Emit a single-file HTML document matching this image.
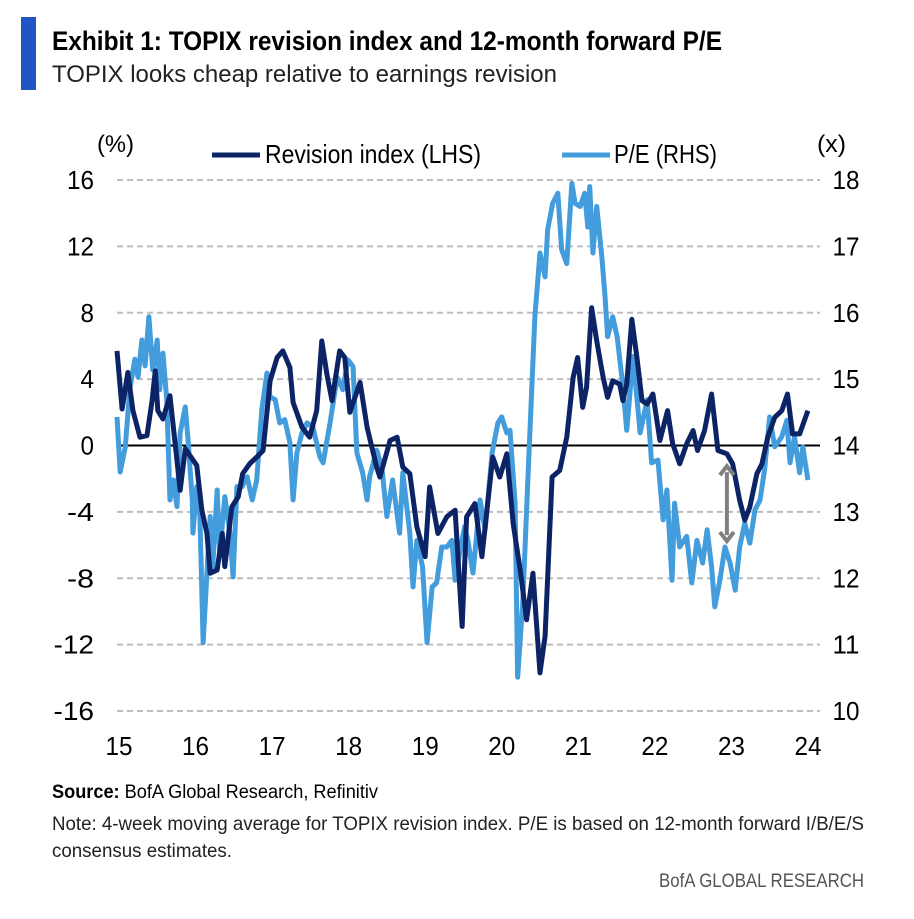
<!DOCTYPE html>
<html><head><meta charset="utf-8"><style>
body{margin:0;background:#fff;}
svg text{font-family:"Liberation Sans Narrow","Liberation Sans",sans-serif;}
</style></head><body>
<svg id="chart" width="914" height="914" viewBox="0 0 914 914" xmlns="http://www.w3.org/2000/svg">
<rect x="21" y="17" width="15" height="73" fill="#2255c4"/>
<text x="52" y="50" font-size="27" font-weight="bold" fill="#000" textLength="670" lengthAdjust="spacingAndGlyphs">Exhibit 1: TOPIX revision index and 12-month forward P/E</text>
<text x="52" y="82" font-size="24" fill="#222" textLength="505" lengthAdjust="spacingAndGlyphs">TOPIX looks cheap relative to earnings revision</text>
<text x="97" y="152" font-size="24" fill="#000" textLength="37" lengthAdjust="spacingAndGlyphs">(%)</text>
<text x="817" y="152" font-size="24" fill="#000" textLength="29" lengthAdjust="spacingAndGlyphs">(x)</text>
<g>
<g>
<line x1="212" y1="155" x2="260" y2="155" stroke="#0c2366" stroke-width="5"/>
<text x="265" y="163" font-size="26" fill="#000" textLength="216" lengthAdjust="spacingAndGlyphs">Revision index (LHS)</text>
</g>
<g>
<line x1="562" y1="155" x2="610" y2="155" stroke="#439cdb" stroke-width="5"/>
<text x="614" y="163" font-size="26" fill="#000" textLength="103" lengthAdjust="spacingAndGlyphs">P/E (RHS)</text>
</g>
</g>
<g id="grid"></g>
<g id="yl"></g>
<g id="yr"></g>
<g id="xa"></g>
<g id="series"></g>
<g id="arrow"></g>
<text x="52" y="798" font-size="19" fill="#000" textLength="326" lengthAdjust="spacingAndGlyphs"><tspan font-weight="bold">Source:</tspan>  BofA Global Research, Refinitiv</text>
<text x="52" y="830" font-size="19" fill="#222" textLength="812" lengthAdjust="spacingAndGlyphs">Note: 4-week moving average for TOPIX revision index. P/E is based on 12-month  forward I/B/E/S</text>
<text x="52" y="857" font-size="19" fill="#222" textLength="180" lengthAdjust="spacingAndGlyphs">consensus   estimates.</text>
<text x="864" y="887" font-size="19" fill="#555" text-anchor="end" textLength="205" lengthAdjust="spacingAndGlyphs">BofA GLOBAL RESEARCH</text>
</svg>
<script>
// Data: months since Jan 2015
const revMonths=[0,0.8,1.7,2.5,3.6,4.7,5.5,6.0,6.4,7.2,8.3,9.4,9.9,10.7,12.5,13.3,14.1,14.6,15.7,16.5,16.9,18.0,19.0,19.7,20.8,21.9,22.9,24.0,25.1,26.0,27.1,27.6,29.0,30.2,31.3,32.1,32.9,33.7,34.9,35.7,36.5,38.1,39.2,40.7,41.2,42.8,43.9,44.8,45.9,47.0,48.3,49.0,50.3,51.7,53.0,54.1,54.8,56.1,57.2,58.1,58.9,60.0,61.1,62.1,63.2,64.2,65.2,66.3,67.1,68.2,69.4,70.5,71.5,72.2,73.0,73.6,74.4,75.2,76.2,76.9,77.7,78.8,79.3,79.9,80.7,81.5,82.3,83.1,84.0,85.1,86.3,87.1,88.2,89.3,90.3,91.0,92.1,93.2,94.2,95.6,96.5,97.6,98.4,99.2,100.3,101.1,102.0,103.1,104.2,105.1,105.9,107.0,108.3];
const revValues=[5.7,2.2,4.4,2.1,0.5,0.6,2.7,4.5,2.1,1.6,3,-0.9,-2.7,-0.2,-1.2,-3.9,-5.3,-7.7,-7.5,-5.3,-7.3,-3.7,-3.1,-1.7,-1.1,-0.7,-0.3,3.9,5.3,5.7,4.7,2.6,1.1,0.5,2.1,6.3,4.3,2.7,5.7,5.3,2,3.8,1.1,-1.3,-1.9,0.3,0.5,-1.3,-1.7,-4.9,-6.7,-2.5,-5.3,-4.3,-3.9,-10.9,-4.3,-3.5,-6.7,-3.5,-0.7,-1.9,-0.5,-4.7,-7.5,-10.5,-7.7,-13.7,-11.5,-1.9,-1.5,0.5,4.1,5.3,2.3,3.5,8.3,6.3,4.1,2.9,3.9,3.7,2.7,3.7,7.6,5.3,2.7,2.5,3.1,0.3,2.1,0.1,-1.1,0.1,0.9,-0.3,0.9,3.1,-0.3,-0.5,-1.1,-3.3,-4.5,-3.7,-1.7,-1.1,0.5,1.7,2.1,3.1,0.7,0.7,2.1];
const peMonths=[0,0.5,1.3,2.0,2.8,3.3,3.9,4.4,5.0,5.6,6.3,6.7,7.2,7.8,8.3,8.8,9.4,9.9,10.7,11.1,11.8,11.9,12.5,13.0,13.5,14.1,14.6,15.0,15.7,16.1,16.9,17.7,18.2,18.8,19.6,20.4,21.2,21.9,22.7,23.5,24.0,24.8,25.5,26.3,27.1,27.6,28.2,29.0,29.8,30.7,31.8,32.3,33.4,34.5,35.4,36.2,37.0,37.6,38.5,39.2,39.6,40.7,41.5,42.3,43.2,44.3,44.8,45.9,46.4,47.0,47.9,48.6,49.4,50.1,50.9,51.7,52.5,53.0,53.7,54.5,55.0,55.8,56.9,57.7,58.8,59.7,60.3,61.1,61.6,62.4,62.8,63.6,64.4,65.5,66.3,67.1,67.5,68.3,69.1,69.7,70.5,71.3,71.8,72.6,73.3,73.8,74.1,74.6,75.2,76.0,76.5,76.9,77.7,78.4,79.3,79.9,80.9,82.0,83.1,83.8,84.8,85.6,86.2,87.0,87.4,88.2,89.3,90.1,90.9,91.8,92.5,93.2,93.7,94.5,95.3,96.1,96.9,97.6,98.4,99.2,100.0,100.8,101.5,102.3,103.1,104.2,105.0,105.5,106.2,107.0,107.5,108.3];
const peValues=[14.43,13.6,13.98,14.84,15.3,15.03,15.59,15.2,15.94,15.14,15.59,14.84,15.39,14.69,13.18,13.48,13.08,14.19,14.58,14.13,13.18,12.68,13.38,12.93,11.03,12.08,12.93,12.17,13.33,12.38,13.23,12.68,12.02,13.38,13.38,13.53,13.18,13.48,14.54,15.09,14.73,14.69,14.34,14.39,14.04,13.18,13.89,14.19,14.34,14.28,13.83,13.74,14.34,15.03,14.84,15.29,15.19,13.89,13.59,13.18,13.53,13.93,13.68,12.93,13.48,12.68,13.59,12.68,11.87,12.57,12.17,11.03,11.87,11.93,12.47,12.47,12.57,11.97,12.38,12.78,12.57,12.08,13.18,12.73,13.89,14.34,14.43,14.19,14.23,13.13,10.51,11.63,13.48,15.94,16.9,16.54,17.25,17.65,17.8,16.95,16.74,17.95,17.65,17.6,17.8,17.29,17.9,16.9,17.6,16.84,16.24,15.64,15.94,15.64,14.89,14.23,15.34,14.19,14.69,13.74,13.78,12.88,13.33,11.97,13.13,12.47,12.63,11.93,12.57,12.23,12.73,12.17,11.57,11.97,12.47,12.23,11.82,12.47,12.83,12.53,13.03,13.18,13.63,14.43,13.98,14.13,14.38,13.74,14.13,13.59,13.98,13.48];
const leftTicks=[16,12,8,4,0,-4,-8,-12,-16];
const rightTicks=[18,17,16,15,14,13,12,11,10];
const xTickLabels=["15","16","17","18","19","20","21","22","23","24"];
const arrowMonth=95.6, arrowTop=-1.0, arrowBottom=-6.0;

const NS="http://www.w3.org/2000/svg";
const X0=117,X1=806,YT=180,YB=711;
const xs=m=>X0+(X1-X0)*m/108;
const yl=v=>YT+(16-v)*(YB-YT)/32;
const yr=v=>YT+(18-v)*(YB-YT)/8;
function mk(tag,attrs,parent){const e=document.createElementNS(NS,tag);for(const k in attrs)e.setAttribute(k,attrs[k]);parent.appendChild(e);return e;}
const tl=s=>s.length*13.5;
const grid=document.getElementById('grid'),gl=document.getElementById('yl'),gr=document.getElementById('yr'),gx=document.getElementById('xa'),gs=document.getElementById('series'),ga=document.getElementById('arrow');
leftTicks.forEach(v=>{
  if(v!==0){const l=mk('line',{x1:X0,x2:820,y1:yl(v),y2:yl(v),stroke:'#bdbdbd','stroke-width':2,'stroke-dasharray':'6,4'},grid);
  
  }
  const s=String(v);
  const t=mk('text',{x:94,y:yl(v)+9,'font-size':26,'text-anchor':'end',fill:'#000',textLength:tl(s),lengthAdjust:'spacingAndGlyphs'},gl);t.textContent=s;
  
  
});
rightTicks.forEach(v=>{
  const s=String(v);
  const t=mk('text',{x:846,y:yr(v)+9,'font-size':26,'text-anchor':'middle',fill:'#000',textLength:tl(s),lengthAdjust:'spacingAndGlyphs'},gr);t.textContent=s;
  
  
});
xTickLabels.forEach((s,i)=>{
  const t=mk('text',{x:xs(i*12)+2,y:755,'font-size':26,'text-anchor':'middle',fill:'#000',textLength:tl(s),lengthAdjust:'spacingAndGlyphs'},gx);t.textContent=s;
  
  
});
const zl=mk('line',{x1:X0,x2:820,y1:yl(0),y2:yl(0),stroke:'#000','stroke-width':2},grid);


const pe=mk('polyline',{points:peMonths.map((m,i)=>xs(m)+','+yr(peValues[i])).join(' '),fill:'none',stroke:'#439cdb','stroke-width':5,'stroke-linejoin':'round'},gs);


const rv=mk('polyline',{points:revMonths.map((m,i)=>xs(m)+','+yl(revValues[i])).join(' '),fill:'none',stroke:'#0c2366','stroke-width':5,'stroke-linejoin':'round'},gs);


const ax=xs(arrowMonth),a1=yl(arrowTop)+4,a2=yl(arrowBottom)-4;
const al=mk('line',{x1:ax,x2:ax,y1:a1+6,y2:a2-6,stroke:'#808080','stroke-width':4},ga);


const h1=mk('polyline',{points:(ax-7)+','+(a1+9)+' '+ax+','+a1+' '+(ax+7)+','+(a1+9),fill:'none',stroke:'#808080','stroke-width':4},ga);


const h2=mk('polyline',{points:(ax-7)+','+(a2-9)+' '+ax+','+a2+' '+(ax+7)+','+(a2-9),fill:'none',stroke:'#808080','stroke-width':4},ga);


</script>
</body></html>
